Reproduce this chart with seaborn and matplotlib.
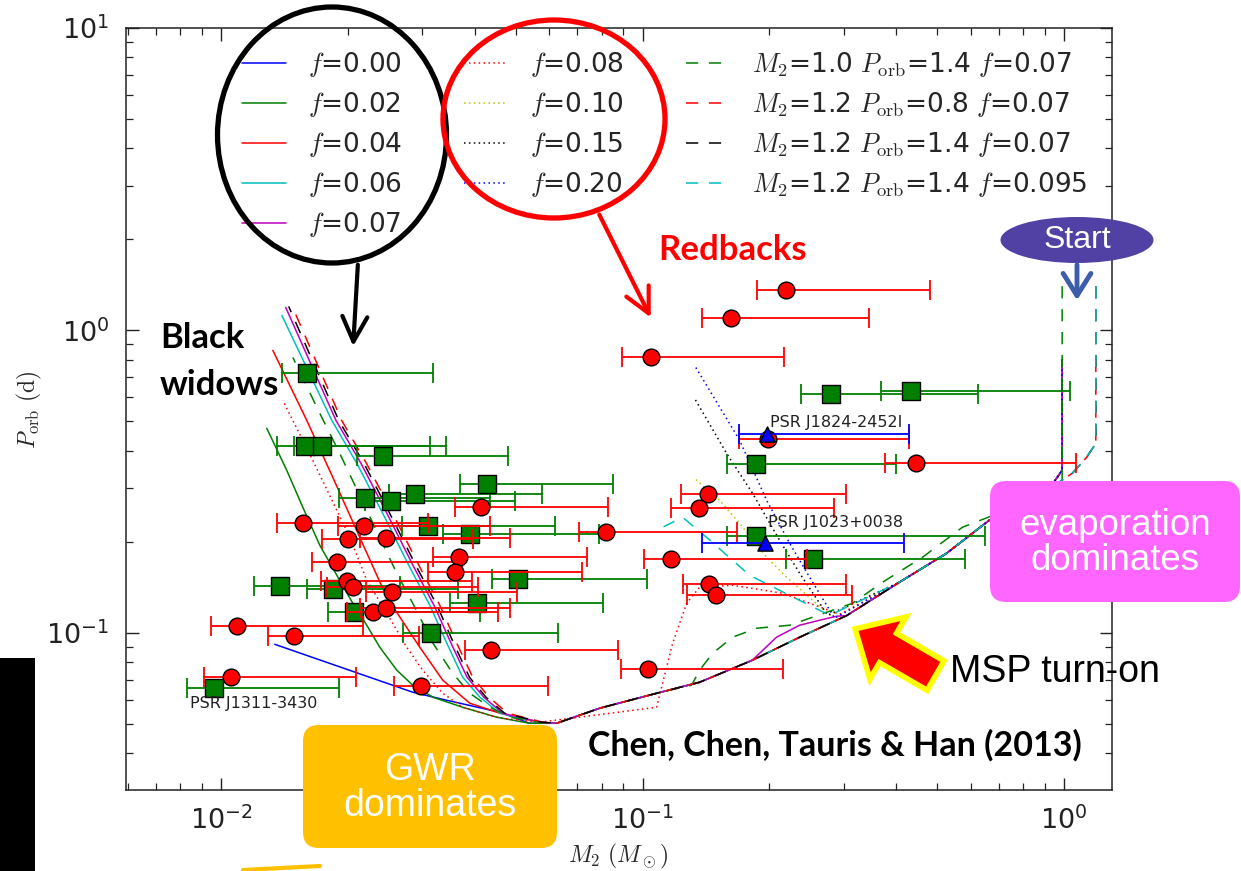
import numpy as np
import pandas as pd
import matplotlib
matplotlib.use("Agg")
import matplotlib.pyplot as plt
import seaborn as sns
from matplotlib.lines import Line2D
from matplotlib.patches import Ellipse, Polygon, FancyBboxPatch, Rectangle, FancyArrowPatch
from matplotlib.ticker import LogLocator, NullFormatter

# ---------------- observed systems ----------------
# green squares (black widows / redbacks, companion mass M2 with range, Porb in days)
sq_m2 = [0.0160, 0.01578, 0.01731, 0.02416, 0.02190, 0.02524, 0.02877, 0.04266, 0.0309, 0.03887, 0.01376,
         0.01839, 0.02062, 0.0505, 0.04038, 0.03141, 0.00960, 0.2793, 0.4324, 0.1853, 0.1853, 0.2532]
sq_lo = [0.01393, 0.01355, 0.01486, 0.02097, 0.0190, 0.0219, 0.02496, 0.0368, 0.0268, 0.03353, 0.01195,
         0.01595, 0.01790, 0.0438, 0.0348, 0.02695, 0.00828, 0.2370, 0.3670, 0.1582, 0.1582, 0.2184]
sq_hi = [0.0318, 0.0312, 0.0341, 0.0478, 0.0434, 0.0497, 0.0576, 0.0849, 0.0618, 0.0786, 0.0266,
         0.0364, 0.0411, 0.1022, 0.0804, 0.0628, 0.0190, 0.6234, 1.036, 0.3983, 0.6477, 0.5807]
sq_porb = [0.721, 0.4136, 0.4136, 0.3833, 0.2783, 0.2720, 0.2870, 0.3097, 0.2249, 0.2117, 0.1425,
           0.1393, 0.1169, 0.1503, 0.1252, 0.0996, 0.0655, 0.6144, 0.6286, 0.3606, 0.2084, 0.1750]

# red circles
ci_m2 = [0.2184, 0.1617, 0.1044, 0.1979, 0.4444, 0.1426, 0.1358, 0.0817, 0.1165, 0.1434, 0.1490, 0.1027,
         0.01561, 0.02178, 0.01996, 0.02456, 0.0188, 0.01985, 0.02051, 0.02538, 0.02288, 0.02456,
         0.0366, 0.0358, 0.0413, 0.01088, 0.01486, 0.01053, 0.02973, 0.0436]
ci_lo = [0.1864, 0.1380, 0.0892, 0.1690, 0.3751, 0.1231, 0.1165, 0.0705, 0.1006, 0.1244, 0.1272, 0.0887,
         0.01355, 0.0189, 0.01731, 0.02131, 0.0164, 0.01722, 0.01781, 0.0220, 0.01985, 0.02131,
         0.0318, 0.0309, 0.0358, 0.00944, 0.01289, 0.00909, 0.02566, 0.0378]
ci_hi = [0.4797, 0.3438, 0.2160, 0.4277, 1.065, 0.3031, 0.2838, 0.1671, 0.2449, 0.3031, 0.3132, 0.2149,
         0.0309, 0.0434, 0.03951, 0.0484, 0.0372, 0.0393, 0.0406, 0.0502, 0.0453, 0.0484,
         0.0736, 0.0717, 0.0826, 0.02166, 0.0294, 0.02084, 0.0595, 0.0872]
ci_porb = [1.356, 1.096, 0.814, 0.4362, 0.3634, 0.2870, 0.2579, 0.2149, 0.1750, 0.1447, 0.1330, 0.0757,
           0.2301, 0.2249, 0.2038, 0.2053, 0.1710, 0.1480, 0.1414, 0.1361, 0.1169, 0.1205,
           0.1777, 0.1585, 0.2601, 0.1051, 0.0974, 0.0713, 0.0665, 0.0875]

# blue triangles (transitional systems)
tr_m2 = [0.1969, 0.1948]
tr_lo = [0.1690, 0.1380]
tr_hi = [0.4277, 0.4161]
tr_porb = [0.4531, 0.1976]
psr_names = ["PSR J1824-2452I", "PSR J1023+0038", "PSR J1311-3430"]
psr_label_m2 = [0.2001, 0.1979, 0.00842]
psr_label_porb = [0.4964, 0.2319, 0.0585]

# ---------------- model tracks ----------------
start_sol_m2 = [0.99, 0.99]
start_sol_porb = [0.80, 0.345]
start12_m2 = [1.19, 1.19, 1.131, 1.047]
start12_p14 = [1.40, 0.423, 0.380, 0.337]
start12_p08 = [0.80, 0.423, 0.380, 0.337]

common_m2 = [0.924, 0.861, 0.666, 0.526, 0.407, 0.305, 0.236, 0.182, 0.1365, 0.108, 0.0791, 0.0625, 0.0539]
common_porb = [0.300, 0.289, 0.236, 0.183, 0.147, 0.114, 0.0967, 0.0811, 0.0686, 0.0631, 0.0563, 0.0502, 0.0502]

g10_m2 = [0.99, 0.99, 0.875, 0.574, 0.4616, 0.371, 0.3148, 0.2233, 0.1864, 0.1635, 0.1466, 0.1365, 0.1307]
g10_porb = [1.40, 0.319, 0.2805, 0.2233, 0.1777, 0.1469, 0.1252, 0.1059, 0.1035, 0.0967, 0.0855, 0.0752, 0.0671]

bump07_m2 = [0.2886, 0.263, 0.2358, 0.2079]
bump07_porb = [0.1134, 0.110, 0.1059, 0.0967]
bump08_m2 = [0.2934, 0.2149, 0.1635, 0.1365, 0.1272, 0.1178, 0.1109, 0.1079]
bump08_porb = [0.1151, 0.1351, 0.1436, 0.1414, 0.1252, 0.0923, 0.0660, 0.0567]
rb10_m2 = [0.2778, 0.2197, 0.1969, 0.1699, 0.1523, 0.1328]
rb10_porb = [0.1143, 0.1526, 0.1777, 0.2301, 0.2742, 0.324]
rb15_m2 = [0.2748, 0.2358, 0.2114, 0.1824, 0.1582, 0.1328]
rb15_porb = [0.1143, 0.1573, 0.2022, 0.289, 0.392, 0.596]
rb20_m2 = [0.2855, 0.249, 0.2233, 0.1969, 0.1699, 0.1328]
rb20_porb = [0.1117, 0.1526, 0.1976, 0.2742, 0.433, 0.766]
rb095_m2 = [0.2778, 0.2358, 0.1794, 0.1418, 0.1244, 0.1115, 0.1097]
rb095_porb = [0.1143, 0.128, 0.1549, 0.2068, 0.2409, 0.2233, 0.2101]

bw000_m2 = [0.0539, 0.0458, 0.0343, 0.02846, 0.01339]
bw000_porb = [0.0502, 0.0546, 0.0598, 0.0636, 0.0916]
bw002_m2 = [0.0539, 0.0450, 0.0374, 0.0318, 0.02846, 0.02609, 0.02377, 0.02214, 0.02051, 0.0188, 0.01713,
            0.01561, 0.01430, 0.01282]
bw002_porb = [0.0502, 0.0526, 0.0567, 0.0612, 0.0671, 0.0752, 0.0896, 0.1059, 0.1252, 0.1549, 0.1947,
              0.2601, 0.3445, 0.4743]
bw004_m2 = [0.0570, 0.0458, 0.03887, 0.03353, 0.02958, 0.0247, 0.02131, 0.01839, 0.01595, 0.01325]
bw004_porb = [0.0506, 0.0542, 0.0585, 0.0697, 0.0896, 0.1310, 0.2068, 0.3266, 0.504, 0.859]
bw006_m2 = [0.0570, 0.0458, 0.0411, 0.0374, 0.0343, 0.03125, 0.02801, 0.02416, 0.02097, 0.01829, 0.01392]
bw006_porb = [0.0506, 0.0542, 0.0612, 0.0713, 0.0923, 0.1233, 0.1646, 0.2483, 0.3634, 0.504, 1.121]
bw007_m2 = [0.0570, 0.0465, 0.0420, 0.0383, 0.0351, 0.03197, 0.02866, 0.02472, 0.02145, 0.01871, 0.01422]
bw007_porb = [0.0506, 0.0542, 0.0612, 0.0713, 0.0923, 0.1233, 0.1646, 0.2483, 0.3634, 0.504, 1.191]
bw008_m2 = [0.0570, 0.0458, 0.0374, 0.03353, 0.03006, 0.02754, 0.02552, 0.02214, 0.02018, 0.01649, 0.01399]
bw008_porb = [0.0506, 0.0522, 0.0567, 0.0631, 0.0752, 0.0896, 0.1075, 0.1492, 0.2068, 0.3717, 0.587]
bwg10_m2 = [0.0570, 0.0484, 0.0434, 0.03887, 0.0354, 0.0318, 0.02846, 0.02609, 0.02214, 0.0191, 0.01713, 0.01478]
bwg10_porb = [0.0506, 0.0526, 0.0567, 0.0631, 0.0735, 0.0923, 0.1252, 0.1573, 0.2541, 0.392, 0.5316, 0.814]
bwk12_m2 = [0.0575, 0.0470, 0.0425, 0.0388, 0.0356, 0.0325, 0.0291, 0.0251, 0.0218, 0.0190, 0.01445]
bwk12_porb = [0.0506, 0.0542, 0.0612, 0.0713, 0.0923, 0.1233, 0.1646, 0.2483, 0.3634, 0.504, 1.20]
bwr12_m2 = [0.0580, 0.0478, 0.0432, 0.0395, 0.0362, 0.0330, 0.0296, 0.0255, 0.0221, 0.0193, 0.01470]
bwr12_porb = [0.0506, 0.0542, 0.0612, 0.0713, 0.0923, 0.1233, 0.1646, 0.2483, 0.3634, 0.504, 1.21]

labels = ["$f$=0.00", "$f$=0.02", "$f$=0.04", "$f$=0.06", "$f$=0.07",
          "$f$=0.08", "$f$=0.10", "$f$=0.15", "$f$=0.20",
          "$M_2$=1.0 $P_{\\rm orb}$=1.4 $f$=0.07", "$M_2$=1.2 $P_{\\rm orb}$=0.8 $f$=0.07",
          "$M_2$=1.2 $P_{\\rm orb}$=1.4 $f$=0.07", "$M_2$=1.2 $P_{\\rm orb}$=1.4 $f$=0.095"]

# ---------------- assemble tracks ----------------
def cat(*parts):
    out = []
    for p in parts:
        out += list(p)
    return out

DOT = (0, (1.0, 2.2))
DASH = (0, (8, 7))
tracks = [
    # (m2, porb, color, linestyle)
    (cat(start_sol_m2, common_m2, bw000_m2[1:]), cat(start_sol_porb, common_porb, bw000_porb[1:]), "b", "-"),
    (cat(start_sol_m2, common_m2, bw002_m2[1:]), cat(start_sol_porb, common_porb, bw002_porb[1:]), "g", "-"),
    (cat(start_sol_m2, common_m2[:12], bw004_m2), cat(start_sol_porb, common_porb[:12], bw004_porb), "r", "-"),
    (cat(start_sol_m2, common_m2[:12], bw006_m2), cat(start_sol_porb, common_porb[:12], bw006_porb), "c", "-"),
    (cat(start_sol_m2, common_m2[:6], bump07_m2, common_m2[7:12], bw007_m2),
     cat(start_sol_porb, common_porb[:6], bump07_porb, common_porb[7:12], bw007_porb), "m", "-"),
    (cat(start_sol_m2, common_m2[:5], bump08_m2, bw008_m2), cat(start_sol_porb, common_porb[:5], bump08_porb, bw008_porb), "r", DOT),
    (cat(start_sol_m2, common_m2[:5], rb10_m2), cat(start_sol_porb, common_porb[:5], rb10_porb), "y", DOT),
    (cat(start_sol_m2, common_m2[:5], rb15_m2), cat(start_sol_porb, common_porb[:5], rb15_porb), "k", DOT),
    (cat(start_sol_m2, common_m2[:5], rb20_m2), cat(start_sol_porb, common_porb[:5], rb20_porb), "b", DOT),
    (cat(g10_m2, common_m2[9:12], bwg10_m2), cat(g10_porb, common_porb[9:12], bwg10_porb), "g", DASH),
    (cat(start12_m2, common_m2[:12], bwr12_m2), cat(start12_p08, common_porb[:12], bwr12_porb), "r", DASH),
    (cat(start12_m2, common_m2[:12], bwk12_m2), cat(start12_p14, common_porb[:12], bwk12_porb), "k", DASH),
    (cat(start12_m2, common_m2[:5], rb095_m2), cat(start12_p14, common_porb[:5], rb095_porb), "c", DASH),
]

# ---------------- style ----------------
sns.set_style("ticks")
plt.rcParams.update({
    "font.family": ["DejaVu Sans"],
    "mathtext.fontset": "cm",
    "xtick.direction": "in", "ytick.direction": "in",
    "xtick.top": True, "ytick.right": True,
    "axes.edgecolor": "#222222", "axes.linewidth": 1.1,
    "xtick.color": "#222222", "ytick.color": "#222222",
})

fig = plt.figure(figsize=(12.41, 8.71), dpi=100)
ax = fig.add_axes([126 / 1241, 81 / 871, 986 / 1241, 762 / 871])
ax.set_xscale("log")
ax.set_yscale("log")
ax.set_xlim(0.00594, 1.30)
ax.set_ylim(0.0302, 10)

for m, p, col, ls in tracks:
    sns.lineplot(x=m, y=p, sort=False, estimator=None, color=col, linestyle=ls, lw=1.1, ax=ax, zorder=2)

# error bars + markers
def draw_points(m, lo, hi, p, col, marker, size, z):
    m = np.array(m); lo = np.array(lo); hi = np.array(hi)
    ax.errorbar(m, p, xerr=[m - lo, hi - m], fmt="none", ecolor=col, elinewidth=1.3,
                capsize=7, capthick=1.3, zorder=z)
    sns.scatterplot(x=m, y=p, marker=marker, s=size, color=col, edgecolor="black",
                    linewidth=1.0, ax=ax, zorder=z + 0.5, legend=False)

draw_points(sq_m2, sq_lo, sq_hi, sq_porb, "#007f00", "s", 155, 3)
draw_points(ci_m2, ci_lo, ci_hi, ci_porb, "red", "o", 145, 4)
draw_points(tr_m2, tr_lo, tr_hi, tr_porb, "blue", "^", 120, 5)

for name, xm, yp in zip(psr_names, psr_label_m2, psr_label_porb):
    ax.text(xm, yp, name, fontsize=11.5, color="#222222", va="center", ha="left", zorder=6)

# axes cosmetics
ax.xaxis.set_major_locator(LogLocator(base=10))
ax.yaxis.set_major_locator(LogLocator(base=10))
ax.xaxis.set_minor_locator(LogLocator(base=10, subs=np.arange(2, 10)))
ax.yaxis.set_minor_locator(LogLocator(base=10, subs=np.arange(2, 10)))
ax.xaxis.set_minor_formatter(NullFormatter())
ax.yaxis.set_minor_formatter(NullFormatter())
ax.tick_params(which="major", length=9, width=1.0, labelsize=19.5, pad=12)
ax.tick_params(which="minor", length=5, width=0.9)
ax.set_xlabel(r"$M_2\ (M_\odot)$", fontsize=17)
ax.set_ylabel(r"$P_{\rm orb}\ ({\rm d})$", fontsize=17)
ax.xaxis.set_label_coords((618 - 126) / 986, -(842 - 790) / 762)
ax.yaxis.set_label_coords(-(126 - 44) / 986, (790 - 410) / 762)

# legend
colors = ["b", "g", "r", "c", "m", "r", "y", "k", "b", "g", "r", "k", "c"]
styles = ["-"] * 5 + [DOT] * 4 + [DASH] * 4
handles = [Line2D([0], [0], color=c, linestyle=s, lw=1.1) for c, s in zip(colors, styles)]
ax.legend(handles, labels, ncol=3, frameon=False, fontsize=19, loc="upper left",
          bbox_to_anchor=((242 - 126) / 986, (790 - 50) / 762), handlelength=1.65,
          handletextpad=0.85, columnspacing=2.35, labelspacing=0.42, borderaxespad=0, borderpad=0)

# ---------------- slide overlays ----------------
T = fig.dpi_scale_trans
def P(px, py):
    return (px / 100.0, (871 - py) / 100.0)

fig.add_artist(Ellipse(P(332, 135), 2.29, 2.56, transform=T, fill=False, ec="black", lw=3.8, zorder=10))
fig.add_artist(Ellipse(P(554, 119), 2.22, 1.98, transform=T, fill=False, ec="red", lw=3.8, zorder=10))
fig.add_artist(FancyArrowPatch(P(358, 262), P(353, 349), transform=T, arrowstyle="->,head_length=0.9,head_width=0.45",
                               mutation_scale=20, color="black", lw=3, zorder=10))
fig.add_artist(FancyArrowPatch(P(598, 212), P(652, 320), transform=T, arrowstyle="->,head_length=0.9,head_width=0.45",
                               mutation_scale=20, color="red", lw=3, zorder=10))

fig.text(*P(733, 250), "Redbacks", transform=T, ha="center", va="center", color="red",
         fontsize=25, fontweight="bold", family="Lato", zorder=11)
fig.text(*P(160, 338), "Black", transform=T, ha="left", va="center", color="black",
         fontsize=25, fontweight="bold", family="Lato", zorder=11)
fig.text(*P(160, 385), "widows", transform=T, ha="left", va="center", color="black",
         fontsize=25, fontweight="bold", family="Lato", zorder=11)
fig.text(*P(835, 745), "Chen, Chen, Tauris & Han (2013)", transform=T, ha="center", va="center",
         color="black", fontsize=24.5, fontweight="bold", family="Lato", zorder=11)

fig.add_artist(Ellipse(P(1077, 240), 1.53, 0.46, transform=T, fc="#5241A5", ec="none", zorder=10))
fig.text(*P(1077, 240), "Start", transform=T, ha="center", va="center", color="white",
         fontsize=23, family="Liberation Sans", zorder=11)
fig.add_artist(FancyArrowPatch(P(1077, 262), P(1077, 303), transform=T, arrowstyle="->,head_length=0.8,head_width=0.5",
                               mutation_scale=20, color="#3C5DAA", lw=3.5, zorder=10))

fig.add_artist(FancyBboxPatch(P(990, 602), 2.50, 1.21, boxstyle="round,pad=0,rounding_size=0.16",
                              transform=T, fc="#FF66FF", ec="none", zorder=10))
fig.text(*P(1115, 543), "evaporation\ndominates", transform=T, ha="center", va="center", color="white",
         fontsize=26.5, family="Liberation Sans", linespacing=1.0, zorder=11)

fig.add_artist(FancyBboxPatch(P(303, 848), 2.54, 1.23, boxstyle="round,pad=0,rounding_size=0.16",
                              transform=T, fc="#FFC000", ec="none", zorder=10))
fig.text(*P(430, 788), "GWR\ndominates", transform=T, ha="center", va="center", color="white",
         fontsize=27, family="Liberation Sans", linespacing=1.0, zorder=11)

fig.text(*P(1055, 672), "MSP turn-on", transform=T, ha="center", va="center", color="black",
         fontsize=27, family="Liberation Sans", zorder=11)

arrow_px = [(944.1, 660.9), (896.5, 633.3), (906.1, 616.9), (855.1, 628.9), (869.9, 679.1),
            (879.5, 662.7), (927.1, 690.3)]
fig.add_artist(Polygon([P(*q) for q in arrow_px], closed=True, transform=T, fc="red", ec="#FFFF00",
                       lw=4, joinstyle="miter", zorder=10))

fig.add_artist(Rectangle(P(0, 871), 0.35, 2.13, transform=T, fc="black", ec="none", zorder=10))
fig.add_artist(Line2D([P(243, 870)[0], P(320, 866)[0]], [P(243, 870)[1], P(320, 866)[1]],
                      transform=T, color="#FFC000", lw=3, zorder=10))

fig.savefig("out.png", dpi=100)
